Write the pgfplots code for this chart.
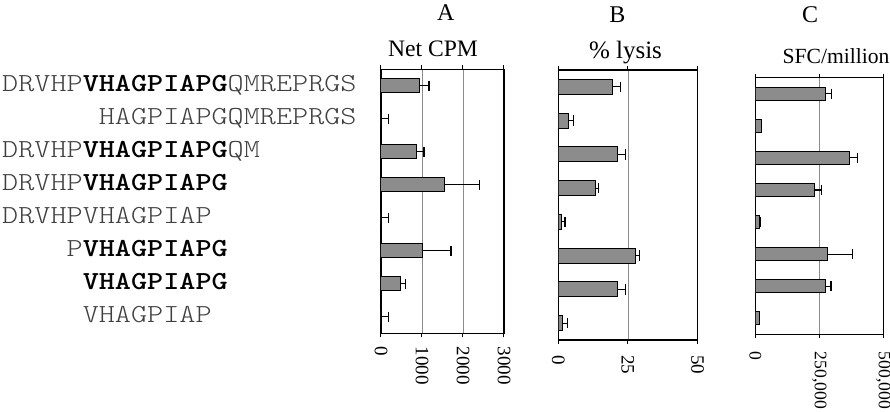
\documentclass[border=0pt]{standalone}
\usepackage{pgfplots}
\pgfplotsset{compat=1.18}
\usepackage{pgfplotstable}
\usepackage{fontspec}
\setmainfont{Liberation Serif}
\setmonofont{lmmonolt10-regular.otf}[BoldFont=lmmonolt10-bold.otf, FakeStretch=1.18]
\newcommand\B[1]{{\color{black}\bfseries #1}}

\pgfplotstableread{
row val err
1 930 240
2 0 190
3 870 180
4 1545 850
5 0 180
6 1015 690
7 480 120
8 0 190
}\dataA
\pgfplotstableread{
row val err
1 19.3 2.9
2 3.5 2.1
3 21.2 2.9
4 13.2 1.3
5 1.3 1.1
6 27.7 1.5
7 21.2 3.0
8 1.6 1.8
}\dataB
\pgfplotstableread{
row val err
1 273000 26000
2 23000 2000
3 367000 33000
4 230000 29000
5 18000 1500
6 281000 98000
7 276000 20000
8 16000 1500
}\dataC

\begin{document}
\begin{tikzpicture}
\useasboundingbox (0pt,0pt) rectangle (445pt,206pt);
\pgfplotsset{
  panel/.style={
    scale only axis, anchor=south west,
    xbar, y dir=reverse, ymin=0.5, ymax=8.5,
    xmin=0, xmajorgrids, grid style={black!45, line width=0.4pt},
    axis line style={line width=0.7pt},
    xtick align=outside, major tick length=2pt,
    xtick style={black, line width=0.5pt},
    xticklabel style={rotate=-90, anchor=west, inner sep=0.5pt,
      font=\fontsize{9.5}{11}\selectfont},
    /pgf/number format/assume math mode=true,
    scaled x ticks=false,
  },
  bars/.style={draw=black, line width=0.5pt, fill=black!45,
    error bars/.cd, x dir=plus, x explicit, error mark=|,
    error bar style={line width=0.6pt, black},
    error mark options={black, line width=0.6pt, mark size=2.6pt}},
}
% Panel A
\begin{axis}[panel, at={(190.5pt,39.35pt)}, width=61.5pt, height=132pt,
  xmax=3000, xtick={0,1000,2000,3000}, xticklabels={0,1000,2000,3000},
  xticklabel shift=4pt, bar width=7pt,
  ytick={1,...,8}, ytick style={draw=none}, ytick align=inside,
  yticklabel shift=12pt,
  yticklabel style={anchor=east, inner sep=0pt, text height=1.6ex, text depth=0.3ex,
    font=\ttfamily\fontsize{13}{15}\selectfont\color{black!75}},
  yticklabels={
    {DRVHP\B{VHAGPIAPG}QMREPRGS},
    {\hphantom{DRVHPV}HAGPIAPGQMREPRGS},
    {DRVHP\B{VHAGPIAPG}QM\hphantom{REPRGS}},
    {DRVHP\B{VHAGPIAPG}\hphantom{QMREPRGS}},
    {DRVHPVHAGPIAP\hphantom{GQMREPRGS}},
    {\hphantom{DRVH}P\B{VHAGPIAPG}\hphantom{QMREPRGS}},
    {\hphantom{DRVHP}\B{VHAGPIAPG}\hphantom{QMREPRGS}},
    {\hphantom{DRVHP}VHAGPIAP\hphantom{GQMREPRGS}}},
]
\addplot[bars] table[x=val, y=row, x error=err] {\dataA};
\end{axis}
% Panel B
\begin{axis}[panel, at={(279.15pt,36pt)}, width=69.6pt, height=135pt,
  xmax=50, xtick={0,25,50}, xticklabels={0,25,50},
  xticklabel shift=5pt, bar width=7.5pt, ytick=\empty,
]
\addplot[bars] table[x=val, y=row, x error=err] {\dataB};
\end{axis}
% Panel C
\begin{axis}[panel, at={(377.65pt,38.85pt)}, width=64pt, height=128.3pt,
  xmax=500000, xtick={0,250000,500000}, xticklabels={0,{250,000},{500,000}},
  xticklabel shift=6pt, bar width=6.5pt, ytick=\empty,
  xticklabel style={font=\fontsize{8.8}{10}\selectfont},
]
\addplot[bars] table[x=val, y=row, x error=err] {\dataC};
\end{axis}
% Titles
\node[anchor=base, font=\fontsize{12}{14}\selectfont] at (222.9pt,195.65pt) {A};
\node[anchor=base, font=\fontsize{12}{14}\selectfont] at (308.75pt,194.65pt) {B};
\node[anchor=base, font=\fontsize{12}{14}\selectfont] at (405pt,194.65pt) {C};
\node[anchor=base, font=\fontsize{11.8}{14}\selectfont] at (216.5pt,177.65pt) {Net CPM};
\node[anchor=base, font=\fontsize{12.5}{14}\selectfont] at (312.75pt,176.85pt) {\% lysis};
\node[anchor=base, font=\fontsize{10.8}{14}\selectfont] at (418pt,174.35pt) {SFC/million};
\end{tikzpicture}
\end{document}
